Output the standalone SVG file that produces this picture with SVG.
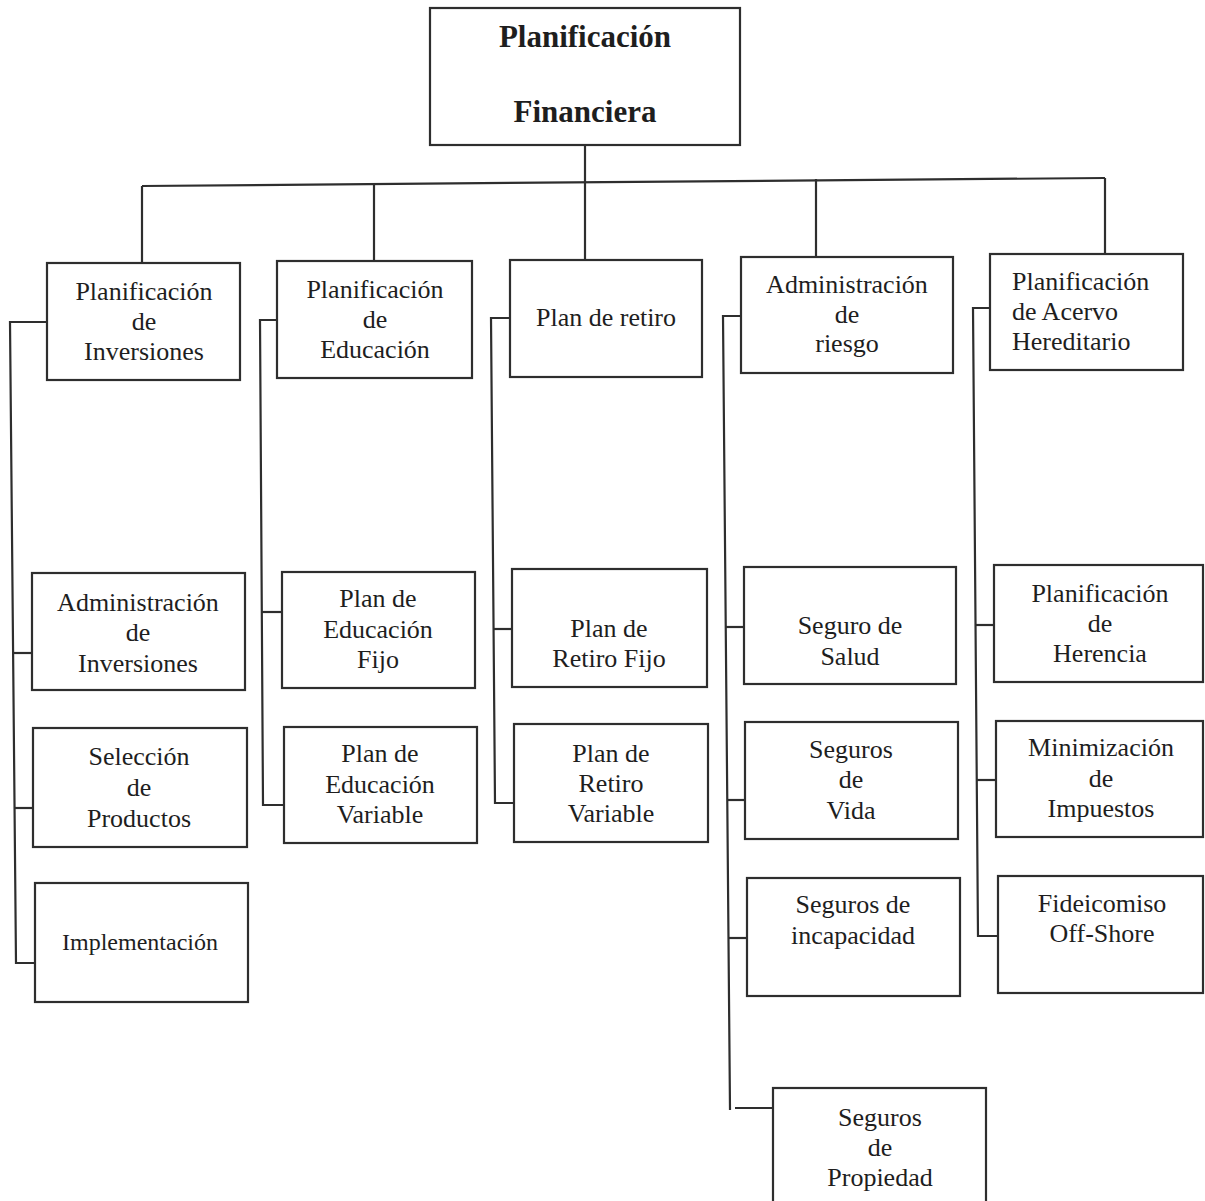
<svg xmlns="http://www.w3.org/2000/svg" width="1205" height="1201" viewBox="0 0 1205 1201">
  <style>
    .box { fill: #ffffff; stroke: #2e2e2e; stroke-width: 2.2; }
    .link { fill: none; stroke: #2e2e2e; stroke-width: 2.2; }
    text { font-family: "Liberation Serif", "Times New Roman", serif; fill: #1e1e1e; font-size: 26px; text-anchor: middle; }
    .title { font-weight: bold; font-size: 31px; }
    .left { text-anchor: start; }
    .small { font-size: 24px; }
  </style>
  <rect width="1205" height="1201" fill="#ffffff"/>

  <!-- connectors -->
  <g id="connectors">
    <!-- root to top bus and drops -->
    <path class="link" d="M585,145 V260"/>
    <path class="link" d="M142,186 L1105,178"/>
    <path class="link" d="M142,186 V263"/>
    <path class="link" d="M374,184 V261"/>
    <path class="link" d="M816,179 V257"/>
    <path class="link" d="M1105,178 V254"/>

    <!-- column 1 -->
    <path class="link" d="M47,322 H10 L16,963 H35"/>
    <path class="link" d="M14,653 H32"/>
    <path class="link" d="M15,808 H33"/>

    <!-- column 2 -->
    <path class="link" d="M277,320 H260 L263,805 H284"/>
    <path class="link" d="M262,612 H282"/>

    <!-- column 3 -->
    <path class="link" d="M510,318 H491 L495,803 H514"/>
    <path class="link" d="M494,629 H512"/>

    <!-- column 4 -->
    <path class="link" d="M741,316 H723 L730,1110"/>
    <path class="link" d="M726,627 H744"/>
    <path class="link" d="M727,800 H745"/>
    <path class="link" d="M729,938 H747"/>
    <path class="link" d="M735,1108 H773"/>

    <!-- column 5 -->
    <path class="link" d="M990,308 H973 L978,936 H998"/>
    <path class="link" d="M975,625 H994"/>
    <path class="link" d="M977,780 H996"/>
  </g>

  <!-- root -->
  <g id="root">
    <rect class="box" x="430" y="8" width="310" height="137"/>
    <text class="title" x="585" y="47">Planificación</text>
    <text class="title" x="585" y="122">Financiera</text>
  </g>

  <!-- second level -->
  <g id="inversiones">
    <rect class="box" x="47" y="263" width="193" height="117"/>
    <text x="144" y="300">Planificación</text>
    <text x="144" y="330">de</text>
    <text x="144" y="360">Inversiones</text>
  </g>
  <g id="educacion">
    <rect class="box" x="277" y="261" width="195" height="117"/>
    <text x="375" y="298">Planificación</text>
    <text x="375" y="328">de</text>
    <text x="375" y="358">Educación</text>
  </g>
  <g id="retiro">
    <rect class="box" x="510" y="260" width="192" height="117"/>
    <text x="606" y="326">Plan de retiro</text>
  </g>
  <g id="riesgo">
    <rect class="box" x="741" y="257" width="212" height="116"/>
    <text x="847" y="293">Administración</text>
    <text x="847" y="323">de</text>
    <text x="847" y="352">riesgo</text>
  </g>
  <g id="acervo">
    <rect class="box" x="990" y="254" width="193" height="116"/>
    <text class="left" x="1012" y="290">Planificación</text>
    <text class="left" x="1012" y="320">de Acervo</text>
    <text class="left" x="1012" y="350">Hereditario</text>
  </g>

  <!-- column 1 children -->
  <g id="admin-inversiones">
    <rect class="box" x="32" y="573" width="213" height="117"/>
    <text x="138" y="611">Administración</text>
    <text x="138" y="641">de</text>
    <text x="138" y="672">Inversiones</text>
  </g>
  <g id="seleccion-productos">
    <rect class="box" x="33" y="728" width="214" height="119"/>
    <text x="139" y="765">Selección</text>
    <text x="139" y="796">de</text>
    <text x="139" y="827">Productos</text>
  </g>
  <g id="implementacion">
    <rect class="box" x="35" y="883" width="213" height="119"/>
    <text class="small" x="140" y="950">Implementación</text>
  </g>

  <!-- column 2 children -->
  <g id="educacion-fijo">
    <rect class="box" x="282" y="572" width="193" height="116"/>
    <text x="378" y="607">Plan de</text>
    <text x="378" y="638">Educación</text>
    <text x="378" y="668">Fijo</text>
  </g>
  <g id="educacion-variable">
    <rect class="box" x="284" y="727" width="193" height="116"/>
    <text x="380" y="762">Plan de</text>
    <text x="380" y="793">Educación</text>
    <text x="380" y="823">Variable</text>
  </g>

  <!-- column 3 children -->
  <g id="retiro-fijo">
    <rect class="box" x="512" y="569" width="195" height="118"/>
    <text x="609" y="637">Plan de</text>
    <text x="609" y="667">Retiro Fijo</text>
  </g>
  <g id="retiro-variable">
    <rect class="box" x="514" y="724" width="194" height="118"/>
    <text x="611" y="762">Plan de</text>
    <text x="611" y="792">Retiro</text>
    <text x="611" y="822">Variable</text>
  </g>

  <!-- column 4 children -->
  <g id="seguro-salud">
    <rect class="box" x="744" y="567" width="212" height="117"/>
    <text x="850" y="634">Seguro de</text>
    <text x="850" y="665">Salud</text>
  </g>
  <g id="seguros-vida">
    <rect class="box" x="745" y="722" width="213" height="117"/>
    <text x="851" y="758">Seguros</text>
    <text x="851" y="788">de</text>
    <text x="851" y="819">Vida</text>
  </g>
  <g id="seguros-incapacidad">
    <rect class="box" x="747" y="878" width="213" height="118"/>
    <text x="853" y="913">Seguros de</text>
    <text x="853" y="944">incapacidad</text>
  </g>
  <g id="seguros-propiedad">
    <rect class="box" x="773" y="1088" width="213" height="125"/>
    <text x="880" y="1126">Seguros</text>
    <text x="880" y="1156">de</text>
    <text x="880" y="1186">Propiedad</text>
  </g>

  <!-- column 5 children -->
  <g id="herencia">
    <rect class="box" x="994" y="565" width="209" height="117"/>
    <text x="1100" y="602">Planificación</text>
    <text x="1100" y="632">de</text>
    <text x="1100" y="662">Herencia</text>
  </g>
  <g id="impuestos">
    <rect class="box" x="996" y="721" width="207" height="116"/>
    <text x="1101" y="756">Minimización</text>
    <text x="1101" y="787">de</text>
    <text x="1101" y="817">Impuestos</text>
  </g>
  <g id="offshore">
    <rect class="box" x="998" y="876" width="205" height="117"/>
    <text x="1102" y="912">Fideicomiso</text>
    <text x="1102" y="942">Off-Shore</text>
  </g>
</svg>
